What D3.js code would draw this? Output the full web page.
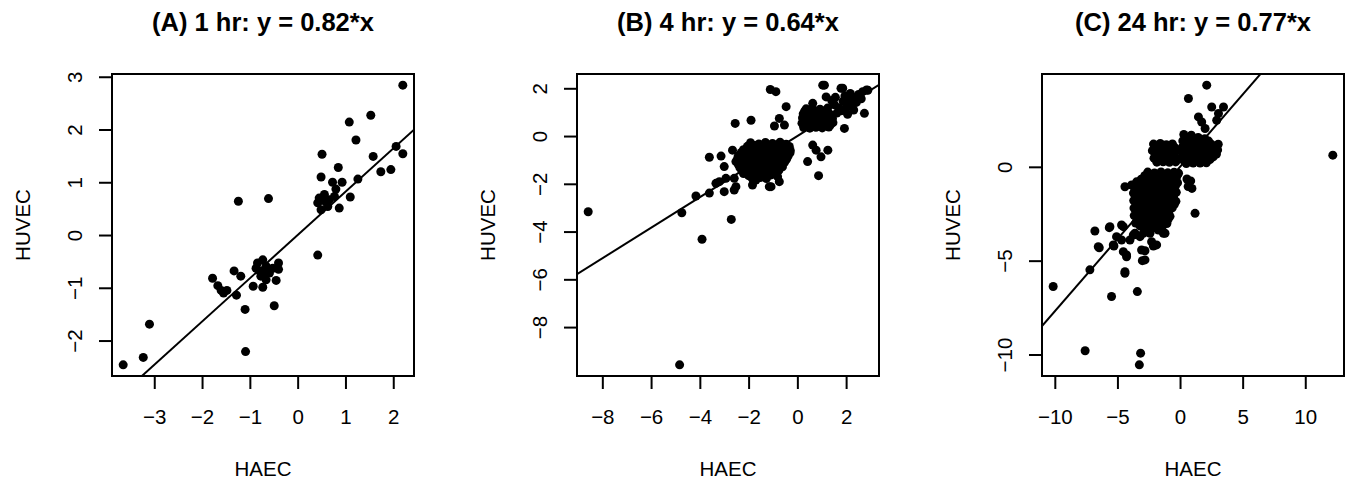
<!DOCTYPE html>
<html>
<head>
<meta charset="utf-8">
<script src="https://cdn.jsdelivr.net/npm/d3@7"></script>
<style>
  body { margin: 0; background: #fff; }
  text { font-family: "Liberation Sans", Arial, sans-serif; fill: #000; }
</style>
</head>
<body>
<svg id="chart" width="1350" height="484"></svg>
<script>
// panel titles and fitted slopes
const titles = ["(A) 1 hr: y = 0.82*x", "(B) 4 hr: y = 0.64*x", "(C) 24 hr: y = 0.77*x"];
const slopes = [0.82, 0.64, 0.77];
const xLabel = "HAEC", yLabel = "HUVEC";

// [HAEC, HUVEC] pairs
const pts1hr = [
  [-3.65,-2.46],[-3.23,-2.32],[-3.10,-1.69],[2.20,2.84],[1.08,2.14],[1.53,2.27],[1.22,1.80],[1.58,1.49],
  [2.06,1.68],[2.20,1.54],[1.74,1.20],[1.95,1.24],[1.26,1.06],[1.10,0.72],[0.51,1.53],[0.49,1.10],
  [0.85,1.28],[0.73,1.00],[0.93,1.00],[0.80,0.87],[0.87,0.51],[0.42,0.61],[0.49,0.48],[0.56,0.77],
  [0.66,0.67],[0.45,0.70],[0.63,0.54],[0.77,0.73],[0.60,0.62],[0.52,0.66],
  [-1.24,0.64],[-0.61,0.69],[0.42,-0.38],
  [-1.78,-0.82],[-1.67,-0.96],[-1.60,-1.05],[-1.48,-1.05],[-1.55,-1.10],[-1.33,-0.68],[-1.19,-0.78],
  [-1.28,-1.14],[-1.10,-1.41],[-1.09,-2.21],[-0.93,-0.97],[-0.73,-0.99],[-0.49,-1.34],[-0.45,-0.86],
  [-0.40,-0.53],[-0.40,-0.65],
  [-0.84,-0.53],[-0.73,-0.47],[-0.66,-0.59],[-0.59,-0.72],[-0.77,-0.78],[-0.87,-0.63],[-0.66,-0.85],
  [-0.52,-0.63],[-0.80,-0.68],[-0.70,-0.70]
];

const pts4hr = [
  [-8.58,-3.17],[-4.74,-3.21],[-3.91,-4.32],[-2.71,-3.49],[-4.83,-9.58],[-4.16,-2.51],[-3.61,-0.89],
  [-3.13,-0.84],[-2.55,0.53],[-1.90,0.66],[-1.11,1.95],[-0.88,1.86],[-0.46,1.23],[-0.94,0.42],
  [-0.53,0.46],[-0.74,0.74],[1.04,2.13],[1.79,2.00],[2.75,0.95],[2.89,1.92],[0.87,-1.66],[0.42,-1.07],
  [1.25,-0.59],[0.63,-0.38],[0.77,-0.59],[0.97,-0.87],[-1.84,-2.05],[-1.08,-2.12],[-3.20,-1.91],
  [-3.00,-2.33],[-2.59,-2.26],[-2.59,-1.77],[-0.81,-1.70],[-2.66,-0.59],[-3.00,-1.28],[-3.34,-1.98],
  [-2.93,-1.77],[-2.52,-2.12],[-3.61,-2.39],[-1.15,-2.12],[-0.74,-1.91],[-1.70,-1.84],[1.11,2.13],
  [1.86,2.00],[1.18,1.64],[0.63,1.37],[1.93,0.32],
  // lower cluster
  [-1.92,-0.28],[-1.58,-0.33],[-1.31,-0.27],[-1.02,-0.31],[-0.71,-0.26],[-0.46,-0.34],
  [-2.05,-0.43],[-1.75,-0.40],[-1.45,-0.44],[-1.15,-0.41],[-0.85,-0.43],[-0.57,-0.40],[-0.33,-0.44],
  [-2.21,-0.57],[-1.96,-0.52],[-1.72,-0.58],[-1.44,-0.54],[-1.19,-0.59],[-0.93,-0.53],[-0.69,-0.57],
  [-0.44,-0.52],[-0.29,-0.60],
  [-2.30,-0.69],[-2.03,-0.66],[-1.78,-0.70],[-1.52,-0.65],[-1.26,-0.70],[-1.00,-0.67],[-0.78,-0.69],
  [-0.52,-0.66],[-0.30,-0.70],
  [-2.42,-0.83],[-2.14,-0.78],[-1.88,-0.82],[-1.66,-0.77],[-1.39,-0.84],[-1.13,-0.79],[-0.91,-0.81],
  [-0.64,-0.76],[-0.38,-0.84],
  [-2.45,-0.94],[-2.20,-0.92],[-1.93,-0.95],[-1.70,-0.91],[-1.44,-0.95],[-1.18,-0.92],[-0.95,-0.94],
  [-0.68,-0.91],[-0.44,-0.96],
  [-2.52,-1.07],[-2.27,-1.02],[-1.98,-1.08],[-1.76,-1.03],[-1.49,-1.06],[-1.24,-1.01],[-1.01,-1.07],
  [-0.74,-1.04],[-0.52,-1.09],
  [-2.42,-1.19],[-2.16,-1.16],[-1.92,-1.20],[-1.68,-1.17],[-1.42,-1.21],[-1.17,-1.16],[-0.93,-1.20],
  [-0.68,-1.17],
  [-2.36,-1.32],[-2.08,-1.27],[-1.86,-1.33],[-1.61,-1.28],[-1.34,-1.31],[-1.09,-1.26],[-0.86,-1.34],
  [-0.61,-1.29],
  [-2.28,-1.44],[-2.02,-1.41],[-1.78,-1.45],[-1.53,-1.42],[-1.26,-1.46],[-1.00,-1.41],[-0.76,-1.44],
  [-2.21,-1.57],[-1.94,-1.52],[-1.71,-1.58],[-1.46,-1.53],[-1.18,-1.56],[-0.92,-1.51],
  [-2.00,-1.66],[-1.62,-1.64],[-1.38,-1.67],[-1.10,-1.63],
  [-1.86,-1.76],[-1.52,-1.74],[-1.27,-1.78],
  // upper cluster
  [0.36,1.14],[0.61,1.18],[0.93,1.12],[1.24,1.17],
  [0.30,1.04],[0.65,1.07],[0.90,1.03],[1.15,1.06],
  [0.24,0.93],[0.52,0.97],[0.77,0.92],[1.02,0.96],[1.31,0.94],
  [0.36,0.84],[0.64,0.86],[0.90,0.83],[1.16,0.87],[1.42,0.85],
  [0.21,0.76],[0.46,0.72],[0.71,0.77],[0.96,0.73],[1.19,0.78],[1.44,0.74],
  [0.33,0.64],[0.58,0.66],[0.83,0.63],[1.08,0.67],[1.33,0.64],
  [0.19,0.54],[0.44,0.58],[0.69,0.53],[0.94,0.57],[1.21,0.52],[1.46,0.56],
  [0.32,0.45],[0.57,0.43],[0.82,0.47],[1.08,0.44],[1.35,0.46],
  [0.26,0.36],[0.51,0.33],[0.76,0.37],[1.02,0.34],[1.29,0.38],
  [1.52,1.31],[1.71,1.19],[1.88,1.46],[2.11,1.52],[2.29,1.61],[2.51,1.74],[2.68,1.86],[2.84,1.93],
  [1.62,0.96],[1.79,1.06],[2.02,1.21],[2.21,1.31],[2.42,1.41],[1.56,1.62],[2.06,0.91],[2.31,1.09],
  [1.41,1.49],[2.62,1.56],[2.17,1.78],[1.95,1.68]
];

const pts24hr = [
  [-10.13,-6.38],[-7.58,-9.80],[-3.15,-9.93],[-3.25,-10.55],[-5.47,-6.91],[-3.41,-6.65],[-4.40,-5.67],
  [-3.01,-5.00],[-7.20,-5.49],[-6.45,-4.31],[-6.80,-3.42],[-5.65,-3.24],[-5.28,-4.22],[-4.27,-4.79],
  [-2.80,-4.47],[-2.13,-4.22],[-1.33,-3.54],[-2.40,-3.54],[-2.93,-3.54],[-3.73,-3.63],[-4.67,-3.90],
  [-5.07,-3.72],[-4.53,-3.19],[-4.00,-3.90],
  [2.13,4.35],[0.67,3.64],[2.53,3.19],[3.47,3.19],[3.07,2.84],[1.47,2.66],[1.73,2.39],[2.00,2.04],
  [2.93,2.48],[1.20,-2.48],[12.20,0.62],
  [-4.40,-1.06],[-3.87,-0.97],[-3.47,-0.80],[-2.93,-0.62],
  [-5.60,-3.19],[-4.67,-3.10],[-6.53,-4.26],[-5.33,-4.16],[-4.53,-4.52],[-4.27,-4.70],[-3.07,-4.43],
  [-2.80,-4.96],[-4.40,-5.59],
  [-3.60,-3.54],[-3.20,-3.72],[-1.73,-3.37],[-1.20,-3.54],[-2.27,-3.99],[-1.87,-4.16],
  [0.55,-0.65],[0.85,-0.75],[0.65,-1.05],[0.95,-1.15],
  // upper right block
  [0.30,1.72],[0.90,1.68],
  [0.48,1.55],[0.95,1.52],[1.45,1.56],[1.98,1.50],
  [0.22,1.38],[0.71,1.43],[1.19,1.36],[1.72,1.41],[2.28,1.37],
  [0.45,1.22],[0.95,1.20],[1.45,1.18],[1.95,1.22],[2.50,1.20],[3.05,1.20],
  [0.18,1.04],[0.69,1.07],[1.22,1.02],[1.68,1.06],[2.21,1.03],[2.78,1.08],
  [0.45,0.88],[0.96,0.86],[1.45,0.89],[1.98,0.85],[2.50,0.88],[3.00,0.90],
  [0.21,0.71],[0.72,0.68],[1.18,0.73],[1.73,0.69],[2.24,0.72],[2.91,0.68],
  [0.48,0.52],[1.05,0.50],[1.55,0.54],[2.10,0.50],[2.65,0.53],
  [0.28,0.36],[0.79,0.33],[1.31,0.37],[1.82,0.34],[2.38,0.38],
  [0.50,0.18],[1.05,0.20],[1.60,0.20],[2.10,0.22],
  // upper left block
  [-2.12,1.21],[-1.58,1.24],[-1.09,1.18],[-0.61,1.22],
  [-1.95,1.03],[-1.45,1.05],[-0.95,1.02],[-0.45,1.04],
  [-2.21,0.86],[-1.72,0.82],[-1.19,0.87],[-0.68,0.83],[-0.24,0.88],
  [-1.98,0.66],[-1.45,0.63],[-0.95,0.67],[-0.45,0.64],
  [-2.08,0.46],[-1.61,0.43],[-1.12,0.47],[-0.58,0.44],[-0.19,0.41],
  [-1.85,0.25],[-1.35,0.27],[-0.85,0.24],[-0.35,0.26],
  // main block
  [-2.58,-0.28],[-2.04,-0.33],[-1.52,-0.27],[-0.98,-0.32],[-0.47,-0.29],[-0.12,-0.34],
  [-2.82,-0.47],[-2.28,-0.50],[-1.75,-0.46],[-1.22,-0.49],[-0.70,-0.45],[-0.25,-0.50],
  [-3.10,-0.66],[-2.55,-0.63],[-2.01,-0.68],[-1.46,-0.62],[-0.93,-0.67],[-0.41,-0.64],
  [-3.30,-0.84],[-2.78,-0.80],[-2.25,-0.85],[-1.70,-0.81],[-1.18,-0.86],[-0.64,-0.80],[-0.20,-0.85],
  [-3.48,-1.02],[-2.93,-0.98],[-2.40,-1.03],[-1.86,-0.99],[-1.31,-1.04],[-0.78,-0.97],[-0.37,-1.02],
  [-3.60,-1.20],[-3.18,-1.22],[-2.65,-1.18],[-2.10,-1.23],[-1.55,-1.19],[-1.02,-1.21],[-0.52,-1.18],
  [-3.72,-1.40],[-3.41,-1.42],[-2.86,-1.38],[-2.33,-1.43],[-1.78,-1.37],[-1.24,-1.41],[-0.72,-1.39],[-0.30,-1.36],
  [-3.55,-1.60],[-3.10,-1.62],[-2.58,-1.58],[-2.03,-1.63],[-1.50,-1.57],[-0.97,-1.61],[-0.52,-1.60],
  [-3.70,-1.80],[-3.36,-1.82],[-2.83,-1.78],[-2.28,-1.83],[-1.74,-1.77],[-1.20,-1.81],[-0.81,-1.79],[-0.33,-1.84],
  [-3.50,-2.00],[-3.02,-2.02],[-2.48,-1.98],[-1.94,-2.03],[-1.40,-1.97],[-0.86,-2.01],[-0.45,-2.00],
  [-3.68,-2.20],[-3.28,-2.21],[-2.74,-2.18],[-2.20,-2.23],[-1.66,-2.17],[-1.10,-2.22],[-0.62,-2.18],
  [-3.45,-2.40],[-2.98,-2.42],[-2.44,-2.38],[-1.90,-2.43],[-1.36,-2.37],[-0.90,-2.41],
  [-3.66,-2.60],[-3.21,-2.62],[-2.69,-2.58],[-2.14,-2.63],[-1.60,-2.57],[-1.25,-2.61],[-0.80,-2.64],
  [-3.40,-2.80],[-2.90,-2.82],[-2.35,-2.78],[-1.82,-2.83],[-1.30,-2.77],[-0.95,-2.80],
  [-3.55,-3.00],[-3.05,-3.02],[-2.52,-2.98],[-1.98,-3.03],[-1.50,-2.97],[-1.05,-3.02],
  [-3.20,-3.15],[-2.55,-3.17],[-1.95,-3.13],[-1.40,-3.16],
  [-2.80,-3.31],[-2.20,-3.28],[-1.70,-3.32]
];

// tick labels
const xTicks1hr = [-3, -2, -1, 0, 1, 2];
const yTicks1hr = [-2, -1, 0, 1, 2, 3];
const xTicks4hr = [-8, -6, -4, -2, 0, 2];
const yTicks4hr = [-8, -6, -4, -2, 0, 2];
const xTicks24hr = [-10, -5, 0, 5, 10];
const yTicks24hr = [-10, -5, 0];

const panels = [
  {pts: pts1hr, xt: xTicks1hr, yt: yTicks1hr},
  {pts: pts4hr, xt: xTicks4hr, yt: yTicks4hr},
  {pts: pts24hr, xt: xTicks24hr, yt: yTicks24hr}
];

var margin = {top: 74, left: 112},
    width = 302,
    height = 302,
    step = 465;

const svg = d3.select("#chart");
const fmt = d3.format("d");

// R-style range: data extent padded by 4%
function rdomain(vals) {
  let e = d3.extent(vals), pad = (e[1] - e[0]) * 0.04;
  return [e[0] - pad, e[1] + pad];
}

panels.forEach(function (p, i) {
  let g = svg.append("g")
    .attr("transform", "translate(" + (margin.left + i * step) + "," + margin.top + ")");

  let x = d3.scaleLinear().domain(rdomain(p.pts.map(d => d[0]))).range([0, width]);
  let y = d3.scaleLinear().domain(rdomain(p.pts.map(d => d[1]))).range([height, 0]);

  g.append("clipPath").attr("id", "clip" + i)
    .append("rect").attr("width", width).attr("height", height);

  // points
  g.append("g").attr("clip-path", "url(#clip" + i + ")")
    .selectAll("circle").data(p.pts).join("circle")
    .attr("cx", d => x(d[0]))
    .attr("cy", d => y(d[1]))
    .attr("r", 4.5)
    .attr("fill", "#000");

  // fitted line through origin
  let xd = x.domain();
  g.append("path")
    .datum([xd[0], xd[1]])
    .attr("clip-path", "url(#clip" + i + ")")
    .attr("fill", "none")
    .attr("stroke", "#000")
    .attr("stroke-width", 2)
    .attr("d", d3.line().x(d => x(d)).y(d => y(slopes[i] * d)));

  // box
  g.append("rect")
    .attr("width", width).attr("height", height)
    .attr("fill", "none").attr("stroke", "#000").attr("stroke-width", 2);

  // x axis
  let ax = g.append("g")
    .attr("transform", "translate(0," + height + ")")
    .call(d3.axisBottom(x).tickValues(p.xt).tickFormat(fmt).tickSize(13));
  ax.select(".domain").remove();
  ax.selectAll("line").attr("stroke-width", 2);
  ax.selectAll("text").attr("y", 48).attr("dy", null)
    .style("font-size", "20.5px");

  // y axis, labels turned like R's las=0
  let ay = g.append("g")
    .call(d3.axisLeft(y).tickValues(p.yt).tickFormat(fmt).tickSize(13));
  ay.select(".domain").remove();
  ay.selectAll("line").attr("stroke-width", 2);
  ay.selectAll("text")
    .attr("x", null).attr("dy", null)
    .attr("text-anchor", "middle")
    .attr("transform", "translate(-30,0) rotate(-90)")
    .style("font-size", "20.5px");

  // titles
  g.append("text")
    .attr("x", width / 2).attr("y", -43.3)
    .attr("text-anchor", "middle")
    .style("font-size", "25.5px").style("font-weight", "bold")
    .text(titles[i]);

  g.append("text")
    .attr("x", width / 2).attr("y", height + 100)
    .attr("text-anchor", "middle")
    .style("font-size", "20.5px")
    .text(xLabel);

  g.append("text")
    .attr("transform", "translate(-82," + (height / 2) + ") rotate(-90)")
    .attr("text-anchor", "middle")
    .style("font-size", "20.5px")
    .text(yLabel);
});
</script>
</body>
</html>
